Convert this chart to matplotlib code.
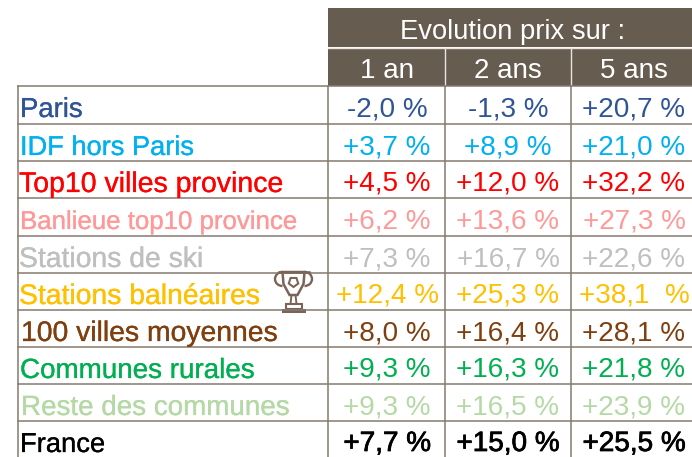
import matplotlib
matplotlib.use("Agg")
import matplotlib.pyplot as plt
import matplotlib.patheffects as pe
from matplotlib.patches import Rectangle, Polygon, Arc, RegularPolygon

# Data
header_title = "Evolution prix sur :"
periods = ["1 an", "2 ans", "5 ans"]
categories = ["Paris", "IDF hors Paris", "Top10 villes province", "Banlieue top10 province",
              "Stations de ski", "Stations balnéaires", "100 villes moyennes",
              "Communes rurales", "Reste des communes", "France"]
evol_1an = [-2.0, 3.7, 4.5, 6.2, 7.3, 12.4, 8.0, 9.3, 9.3, 7.7]
evol_2ans = [-1.3, 8.9, 12.0, 13.6, 16.7, 25.3, 16.4, 16.3, 16.5, 15.0]
evol_5ans = [20.7, 21.0, 32.2, 27.3, 22.6, 38.1, 28.1, 21.8, 23.9, 25.5]

# Styles and layout (pixels)
colors = ["#2F5597", "#00B0F0", "#FF0000", "#FF9999", "#BFBFBF", "#FFC000",
          "#7F3F0F", "#00B050", "#B5D9A5", "#000000"]
label_sizes = [19.8, 19.6, 20.5, 18.6, 20.4, 20.4, 20.4, 20.0, 20.0, 19.7]
label_x = [20, 20, 19, 20, 19, 19, 21, 20, 21, 20]
brown = "#675C50"
row_y = [86, 124, 161, 198, 236, 273, 310, 347, 384, 421, 458]
col_x = [328, 445, 571, 692]
col_c = [387, 508, 634]
left = 18
FONT = "Liberation Sans"
W, H = 692, 457

fig = plt.figure(figsize=(W / 100, H / 100), dpi=100)
ax = fig.add_axes([0, 0, 1, 1])
ax.set_xlim(0, W)
ax.set_ylim(H, 0)
ax.axis("off")

# Header
ax.add_patch(Rectangle((col_x[0], 8), W - col_x[0], 39, fc=brown, ec="none"))
ax.add_patch(Rectangle((col_x[0], 48), W - col_x[0], 38, fc=brown, ec="none"))
ax.plot([col_x[0], W], [47.5, 47.5], color="#E8E4DF", lw=1)
for x in col_x[1:3]:
    ax.plot([x, x], [48, 86], color="#E8E4DF", lw=1)
ax.text(512.5, 39, header_title, color="white", ha="center", va="baseline", fontsize=19.7, family=FONT)
for c, p in zip(col_c, periods):
    ax.text(c, 78, p, color="white", ha="center", va="baseline", fontsize=20, family=FONT)

# Grid
for y in row_y[:-1]:
    ax.plot([left, W], [y, y], color="#857A6F", lw=1.1)
for x in [left] + col_x[:3]:
    ax.plot([x, x], [86, H], color="#857A6F", lw=1.1)


def fmt(v):
    return f"{v:+.1f} %".replace(".", ",")


# Rows
for i, cat in enumerate(categories):
    bold = cat == "France"
    ax.text(label_x[i], row_y[i] + 31, cat, color=colors[i], ha="left", va="baseline",
            fontsize=label_sizes[i], family=FONT,
            path_effects=[pe.withStroke(linewidth=0.2, foreground=colors[i])])
    for c, series in zip(col_c, (evol_1an, evol_2ans, evol_5ans)):
        s = fmt(series[i])
        if series is evol_5ans and series[i] == 38.1:
            s = s.replace(" %", "  %")
        t = ax.text(c, row_y[i] + 30, s, color=colors[i], ha="center", va="baseline",
                    fontsize=20.1, family=FONT)
        if bold:
            t.set_path_effects([pe.withStroke(linewidth=0.55, foreground=colors[i])])

# Trophy icon
t = "#7B6358"
cx = 293.5
ax.add_patch(Polygon([(cx - 11, 272), (cx + 11, 272), (cx + 10, 284), (cx + 4, 295),
                      (cx - 4, 295), (cx - 10, 284)], closed=True, fc="none", ec=t, lw=1.8))
ax.plot([cx - 15, cx + 15], [272, 272], color=t, lw=1.8)
ax.add_patch(Arc((cx - 11, 279), 15, 14, theta1=90, theta2=270, ec=t, lw=1.7))
ax.add_patch(Arc((cx + 11, 279), 15, 14, theta1=-90, theta2=90, ec=t, lw=1.7))
ax.plot([cx - 2, cx - 3], [295, 304], color=t, lw=1.4)
ax.plot([cx + 2, cx + 3], [295, 304], color=t, lw=1.4)
ax.add_patch(Rectangle((cx - 8, 304), 16, 5, fc="none", ec=t, lw=1.5))
ax.add_patch(Rectangle((cx - 12, 309), 24, 3.5, fc=t, ec="none"))
ax.add_patch(RegularPolygon((cx, 282), 5, radius=5, fc="none", ec=t, lw=1.5))

fig.savefig("out.png", dpi=100, facecolor="white")
